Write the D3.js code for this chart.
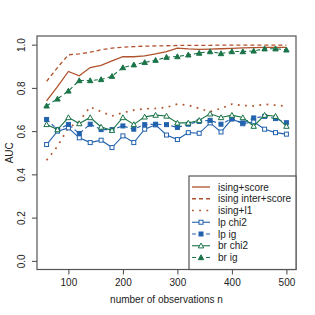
<!DOCTYPE html>
<html>
<head>
<meta charset="utf-8">
<script src="https://cdn.jsdelivr.net/npm/d3@7"></script>
<style>
  body { margin: 0; background: #fff; }
  text { font-family: "Liberation Sans", Arial, sans-serif; fill: #222; }
</style>
</head>
<body>
<div id="chart"></div>
<script>
// data
var nObs = [60, 80, 100, 120, 140, 160, 180, 200, 220, 240, 260, 280, 300,
            320, 340, 360, 380, 400, 420, 440, 460, 480, 500];

var isingScore = [0.740, 0.806, 0.876, 0.856, 0.894, 0.904, 0.925, 0.944, 0.944, 0.948, 0.957, 0.968,
                  0.984, 0.980, 0.978, 0.979, 0.981, 0.983, 0.985, 0.986, 0.987, 0.987, 0.987];
var isingInter = [0.830, 0.894, 0.953, 0.957, 0.965, 0.976, 0.984, 0.988, 0.991, 0.993, 0.994, 0.995,
                  0.996, 0.997, 0.997, 0.997, 0.998, 0.998, 0.998, 0.998, 0.998, 0.998, 0.998];
var isingL1 = [0.465, 0.530, 0.615, 0.645, 0.712, 0.690, 0.670, 0.685, 0.697, 0.703, 0.705, 0.710,
               0.725, 0.720, 0.705, 0.690, 0.705, 0.725, 0.718, 0.717, 0.724, 0.720, 0.715];
var lpChi2 = [0.538, 0.600, 0.615, 0.569, 0.547, 0.558, 0.524, 0.578, 0.547, 0.609, 0.629, 0.582,
              0.561, 0.593, 0.590, 0.638, 0.596, 0.656, 0.634, 0.643, 0.609, 0.593, 0.586];
var lpIg = [0.654, 0.607, 0.631, 0.589, 0.632, 0.607, 0.607, 0.624, 0.609, 0.630, 0.632, 0.630,
            0.617, 0.632, 0.645, 0.650, 0.632, 0.658, 0.638, 0.661, 0.668, 0.658, 0.639];
var brChi2 = [0.631, 0.607, 0.663, 0.635, 0.663, 0.619, 0.604, 0.663, 0.631, 0.666, 0.674, 0.670,
              0.638, 0.638, 0.650, 0.680, 0.663, 0.674, 0.663, 0.623, 0.674, 0.669, 0.623];
var brIg = [0.717, 0.749, 0.786, 0.834, 0.834, 0.839, 0.854, 0.894, 0.907, 0.918, 0.928, 0.942,
            0.945, 0.953, 0.961, 0.968, 0.959, 0.968, 0.968, 0.971, 0.981, 0.981, 0.976];

var xTicks = [100, 200, 300, 400, 500];
var yTicks = [0.0, 0.2, 0.4, 0.6, 0.8, 1.0];

var brown = "#b0532c", blue = "#2262ad", green = "#1b7448";

// series list for drawing (built from the arrays above)
var series = [
  {name: "ising+score",       vals: isingScore, color: brown, dash: null,      mark: null},
  {name: "ising inter+score", vals: isingInter, color: brown, dash: "4,3",     mark: null},
  {name: "ising+l1",          vals: isingL1,    color: brown, dash: "1.8,5.4", mark: null},
  {name: "lp chi2",           vals: lpChi2,     color: blue,  dash: null,      mark: "sqOpen"},
  {name: "lp ig",             vals: lpIg,       color: blue,  dash: "4,3",     mark: "sqFill"},
  {name: "br chi2",           vals: brChi2,     color: green, dash: null,      mark: "triOpen"},
  {name: "br ig",             vals: brIg,       color: green, dash: "4,3",     mark: "triFill"}
];

var svgWidth = 315, svgHeight = 315;
var box = {left: 37, right: 296, top: 36, bottom: 269.5};

var svg = d3.select("#chart").append("svg")
  .attr("width", svgWidth)
  .attr("height", svgHeight);

// R style 4% padding on both axes
var xScale = d3.scaleLinear().domain([42.4, 517.6]).range([box.left, box.right]);
var yScale = d3.scaleLinear().domain([-0.04, 1.04]).range([box.bottom, box.top]);

// axes
var bottomAxis = d3.axisBottom(xScale).tickValues(xTicks).tickSize(5).tickPadding(4)
  .tickFormat(d3.format("d"));
var leftAxis = d3.axisLeft(yScale).tickValues(yTicks).tickSize(5)
  .tickFormat(d3.format(".1f"));

var gx = svg.append("g")
  .attr("transform", `translate(0, ${box.bottom})`)
  .call(bottomAxis);
gx.select(".domain").remove();
gx.selectAll("line").attr("stroke", "#444");
gx.selectAll("text").attr("font-size", 10).style("fill", "#222");

var gy = svg.append("g")
  .attr("transform", `translate(${box.left}, 0)`)
  .call(leftAxis);
gy.select(".domain").remove();
gy.selectAll("line").attr("stroke", "#444");
gy.selectAll("text")
  .attr("font-size", 10)
  .attr("x", null).attr("dy", null)
  .attr("text-anchor", "middle")
  .attr("transform", "translate(-12, 0) rotate(-90)")
  .style("fill", "#222");

// plot box
svg.append("rect")
  .attr("x", box.left).attr("y", box.top)
  .attr("width", box.right - box.left).attr("height", box.bottom - box.top)
  .attr("fill", "none").attr("stroke", "#555").attr("stroke-width", 1.2);

// axis titles
svg.append("text")
  .attr("x", (box.left + box.right) / 2).attr("y", 303)
  .attr("text-anchor", "middle").attr("font-size", 10)
  .text("number of observations n");
svg.append("text")
  .attr("transform", `translate(13, ${(box.top + box.bottom) / 2}) rotate(-90)`)
  .attr("text-anchor", "middle").attr("font-size", 10)
  .text("AUC");

function drawMark(g, type, color, x, y) {
  if (type === "sqOpen" || type === "sqFill") {
    g.append("rect")
      .attr("x", x - 2).attr("y", y - 2).attr("width", 4).attr("height", 4)
      .attr("fill", type === "sqFill" ? color : "#fff")
      .attr("stroke", color).attr("stroke-width", 1);
  } else if (type === "triOpen" || type === "triFill") {
    var s = 2.7;
    g.append("path")
      .attr("d", `M${x},${y - s} L${x + s},${y + s * 0.8} L${x - s},${y + s * 0.8} Z`)
      .attr("fill", type === "triFill" ? color : "#fff")
      .attr("stroke", color).attr("stroke-width", 1);
  }
}

var line = d3.line()
  .x(d => xScale(d.n))
  .y(d => yScale(d.v));

var plot = svg.append("g");
series.forEach(function(s) {
  var pts = nObs.map((n, i) => ({n: n, v: s.vals[i]}));
  plot.append("path")
    .attr("d", line(pts))
    .attr("fill", "none")
    .attr("stroke", s.color)
    .attr("stroke-width", s.mark ? 1.1 : (s.dash === "1.8,5.4" ? 1.7 : 1.3))
    .attr("stroke-dasharray", s.dash);
  if (s.mark) {
    pts.forEach(p => drawMark(plot, s.mark, s.color, xScale(p.n), yScale(p.v)));
  }
});

// legend (bottom right)
var leg = {x: 189, y: 176};
svg.append("rect")
  .attr("x", leg.x).attr("y", leg.y)
  .attr("width", box.right - leg.x).attr("height", box.bottom - leg.y)
  .attr("fill", "#fff").attr("stroke", "#555").attr("stroke-width", 1.2);

series.forEach(function(s, i) {
  var yy = 187 + i * 11.75;
  svg.append("line")
    .attr("x1", 192).attr("x2", 210).attr("y1", yy).attr("y2", yy)
    .attr("stroke", s.color)
    .attr("stroke-width", s.mark ? 1.1 : (s.dash === "1.8,5.4" ? 1.7 : 1.3))
    .attr("stroke-dasharray", s.dash);
  if (s.mark) drawMark(svg, s.mark, s.color, 201, yy);
  svg.append("text")
    .attr("x", 218).attr("y", yy + 3.6)
    .attr("font-size", 10)
    .text(s.name);
});
</script>
</body>
</html>
